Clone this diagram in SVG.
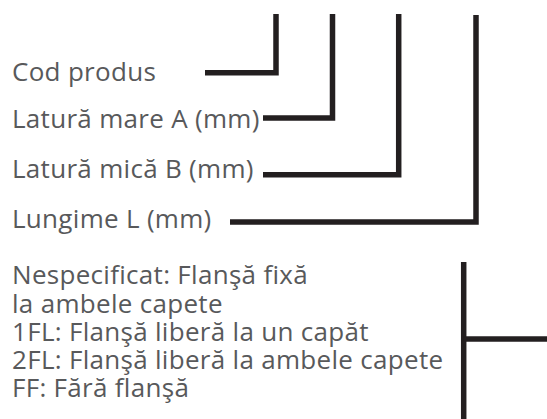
<svg xmlns="http://www.w3.org/2000/svg" width="547" height="419" viewBox="0 0 547 419">
<style>
.t{font-family:"Open Sans","Noto Sans","DejaVu Sans",sans-serif;font-size:26px;letter-spacing:0.3px;fill:#58595b}
.c{fill:none;stroke:#231f20;stroke-width:5.5;stroke-linecap:butt;stroke-linejoin:miter}
</style>
<rect width="547" height="419" fill="#ffffff"/>
<g id="cod"><text class="t" x="12" y="80.5">Cod produs</text></g>
<g id="latura-mare"><text class="t" x="12" y="128">Latură mare A (mm)</text></g>
<g id="latura-mica"><text class="t" x="12" y="178">Latură mică B (mm)</text></g>
<g id="lungime"><text class="t" x="12" y="227.5">Lungime L (mm)</text></g>
<g id="flansa">
<text class="t" x="12" y="284">Nespecificat: Flanşă fixă</text>
<text class="t" x="12" y="312.5">la ambele capete</text>
<text class="t" x="12" y="341">1FL: Flanşă liberă la un capăt</text>
<text class="t" x="12" y="368.5">2FL: Flanşă liberă la ambele capete</text>
<text class="t" x="12" y="397">FF: Fără flanşă</text>
</g>
<g id="connectors">
<path class="c" d="M205,72.7 H276 V14"/>
<path class="c" d="M263,118 H332.5 V14"/>
<path class="c" d="M263,174.7 H398.7 V14"/>
<path class="c" d="M230,222 H476 V15"/>
<path class="c" d="M463.7,262 V419"/>
<path class="c" d="M463.7,339 H547"/>
</g>
</svg>
